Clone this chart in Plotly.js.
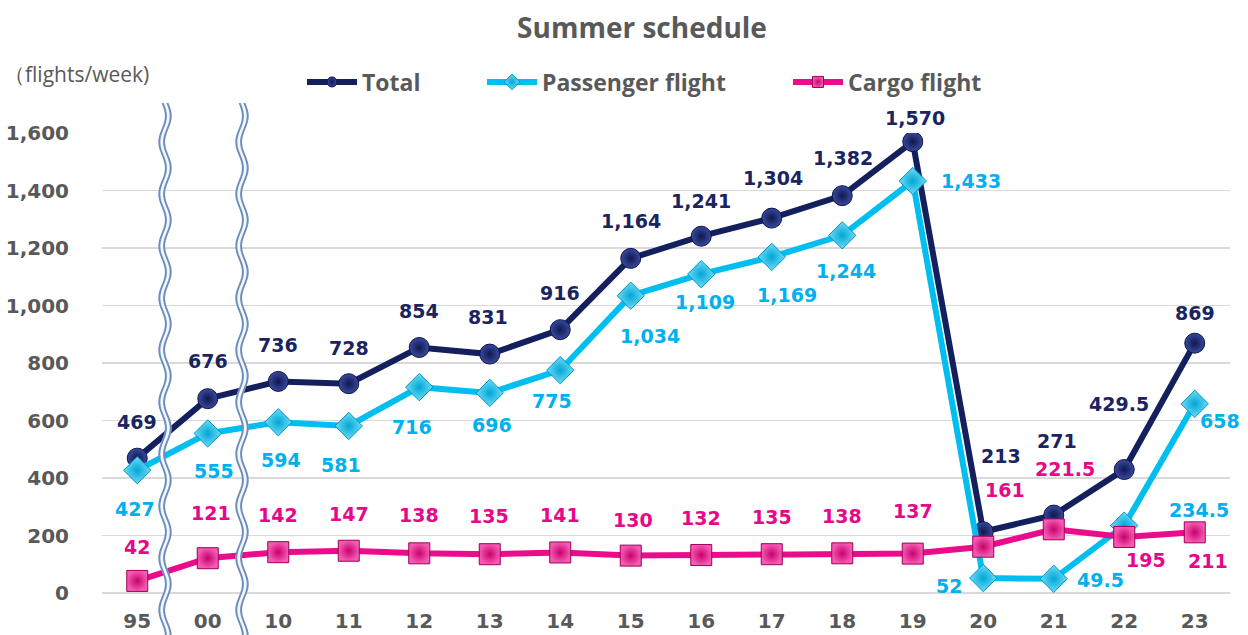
<!DOCTYPE html>
<html>
<head>
<meta charset="utf-8">
<script src="https://cdn.plot.ly/plotly-3.0.1.min.js"></script>
<style>html,body{margin:0;padding:0;background:#fff;}#chart{width:1248px;height:635px;}</style>
</head>
<body>
<div id="chart"></div>
<script>
// ---- data ----
const categories = ['95','00','10','11','12','13','14','15','16','17','18','19','20','21','22','23'];
const totalFlights = [469,676,736,728,854,831,916,1164,1241,1304,1382,1570,213,271,429.5,869];
const passengerFlights = [427,555,594,581,716,696,775,1034,1109,1169,1244,1433,52,49.5,234.5,658];
const cargoFlights = [42,121,142,147,138,135,141,130,132,135,138,137,161,221.5,195,211];
const seriesNames = ['Total','Passenger flight','Cargo flight'];
const yTicks = [0,200,400,600,800,1000,1200,1400,1600];

// ---- label placement (pixel offsets dx, dy; dy positive = downward) ----
const totalLabelOffset = [[0,-36],[0,-38],[0,-36],[0,-36],[0,-36],[-2,-37],[0,-37],[0,-37],[0,-35],[1,-40],[1,-38],[2,-24],[18,-76],[3,-74],[-5,-66],[0,-30]];
const passengerLabelOffset = [[-2,39],[6,38],[3,38],[-8,39],[-7,40],[2,32],[-8,31],[19,40],[4,28],[15,38],[4,36],[58,0],[-34,8],[47,1],[75,-16],[25,17]];
const cargoLabelOffset = [[0,-34],[3,-45],[0,-37],[0,-37],[0,-38],[-1,-38],[0,-37],[2,-36],[0,-37],[0,-37],[0,-37],[0,-43],[22,-57],[11,-60],[22,23],[13,29]];

const W = 1248, H = 635;
const M = {l:102, r:18, t:133, b:42};
const plotW = W - M.l - M.r, plotH = H - M.t - M.b;
const px2paperX = X => (X - M.l) / plotW;
const px2paperY = Y => (H - M.b - Y) / plotH;

const navy = '#141f5e', cyan = '#00bff0', magenta = '#eb0c8c';
const navyText = '#1a2461', cyanText = '#00b0f0', magentaText = '#e8078a';
const grey = '#595959';

function fmt(v){ return v.toLocaleString('en-US'); }

const markerStyles = [
  {symbol:'circle', color:'#3a4a9e', gradient:{type:'radial', color:'#0e1850'}, line:{color:'#0c1545', width:1}},
  {symbol:'diamond', color:'#6fdcf7', gradient:{type:'radial', color:'#00a6d6'}, line:{color:'#0095c0', width:1}},
  {symbol:'square', color:'#f55bb2', gradient:{type:'radial', color:'#c8006e'}, line:{color:'#9c0055', width:1}}
];
const plotSizes = [20, 21, 21];
const legendSizes = [10, 12, 11];
const lineColors = [navy, cyan, magenta];
const seriesValues = [totalFlights, passengerFlights, cargoFlights];
const legendIds = ['legend', 'legend2', 'legend3'];

const traces = [];
seriesValues.forEach((vals, k)=>{
  traces.push({x: categories, y: vals, name: seriesNames[k], type:'scatter', mode:'lines+markers',
    showlegend:false, line:{color:lineColors[k], width:6},
    marker: Object.assign({size: plotSizes[k]}, markerStyles[k])});
});
// legend-only entries (no data drawn) so the legend samples can use smaller markers
seriesValues.forEach((vals, k)=>{
  traces.push({x:[null], y:[null], name: seriesNames[k], type:'scatter', mode:'lines+markers',
    showlegend:true, legend: legendIds[k], line:{color:lineColors[k], width:6},
    marker: Object.assign({size: legendSizes[k]}, markerStyles[k]), hoverinfo:'skip'});
});

const labelFont = {family:'DejaVu Sans', size:19, weight:'bold'};
const annotations = [];
function addLabels(vals, offs, color){
  vals.forEach((v,i)=>{
    annotations.push({x: i, y: v, xref:'x', yref:'y', text: fmt(v), showarrow:false,
      xshift: offs[i][0], yshift: -offs[i][1], xanchor:'center', yanchor:'middle',
      font: Object.assign({color: color}, labelFont)});
  });
}
addLabels(totalFlights, totalLabelOffset, navyText);
addLabels(passengerFlights, passengerLabelOffset, cyanText);
addLabels(cargoFlights, cargoLabelOffset, magentaText);

annotations.push({xref:'paper', yref:'paper', x: px2paperX(2), y: px2paperY(74), xanchor:'left', yanchor:'middle',
  text:'（flights/week)', showarrow:false, font:{family:'Open Sans', size:21, color:grey}});

// axis-break wavy double lines
function wavePath(xc, off, amp, period){
  let d = '';
  for (let Y = 103; Y <= 640; Y += 2){
    const X = xc + off + amp*Math.sin(2*Math.PI*(Y-103)/period);
    d += (d ? ' L' : 'M') + px2paperX(X).toFixed(5) + ',' + px2paperY(Y).toFixed(5);
  }
  return d;
}
const shapes = [];
[165, 242].forEach(xc=>{
  shapes.push({type:'path', xref:'paper', yref:'paper', layer:'above', path: wavePath(xc, 0, 3.3, 52), line:{color:'#f4f7fb', width:6}});
  shapes.push({type:'path', xref:'paper', yref:'paper', layer:'above', path: wavePath(xc, -2.4, 3.3, 52), line:{color:'#6d8fbe', width:2}});
  shapes.push({type:'path', xref:'paper', yref:'paper', layer:'above', path: wavePath(xc, 2.4, 3.3, 52), line:{color:'#6d8fbe', width:2}});
});

const legendBase = {orientation:'h', y: px2paperY(82), xanchor:'left', yanchor:'middle',
  font:{family:'Open Sans', size:23, color:grey, weight:'bold'}, itemwidth:50, bgcolor:'rgba(0,0,0,0)'};

const layout = {
  width: W, height: H,
  margin: M,
  paper_bgcolor:'#ffffff', plot_bgcolor:'#ffffff',
  title: {text:'Summer schedule', xref:'container', yref:'container', x: 642/W, y: 1 - 28/H, xanchor:'center', yanchor:'middle',
    font:{family:'Open Sans', size:28, color:grey, weight:'bold'}},
  showlegend: true,
  legend: Object.assign({x: px2paperX(302)}, legendBase),
  legend2: Object.assign({x: px2paperX(482)}, legendBase),
  legend3: Object.assign({x: px2paperX(788)}, legendBase),
  xaxis: {type:'category', range:[-0.5, categories.length-0.5], showgrid:false, zeroline:false, showline:false,
    ticks:'outside', ticklen:10, tickcolor:'rgba(0,0,0,0)', fixedrange:true,
    tickfont:{family:'DejaVu Sans', size:20, color:grey, weight:'bold'}},
  yaxis: {range:[0,1600], tickvals: yTicks, tickformat:',d', showgrid:true, gridcolor:'#d9d9d9', gridwidth:1.5,
    zeroline:true, zerolinecolor:'#d9d9d9', zerolinewidth:1.5, showline:false,
    ticks:'outside', ticklen:28, tickcolor:'rgba(0,0,0,0)',
    tickfont:{family:'DejaVu Sans', size:20, color:grey, weight:'bold'}},
  annotations: annotations,
  shapes: shapes
};

Plotly.newPlot('chart', traces, layout, {displayModeBar:false, staticPlot:true});
</script>
</body>
</html>
